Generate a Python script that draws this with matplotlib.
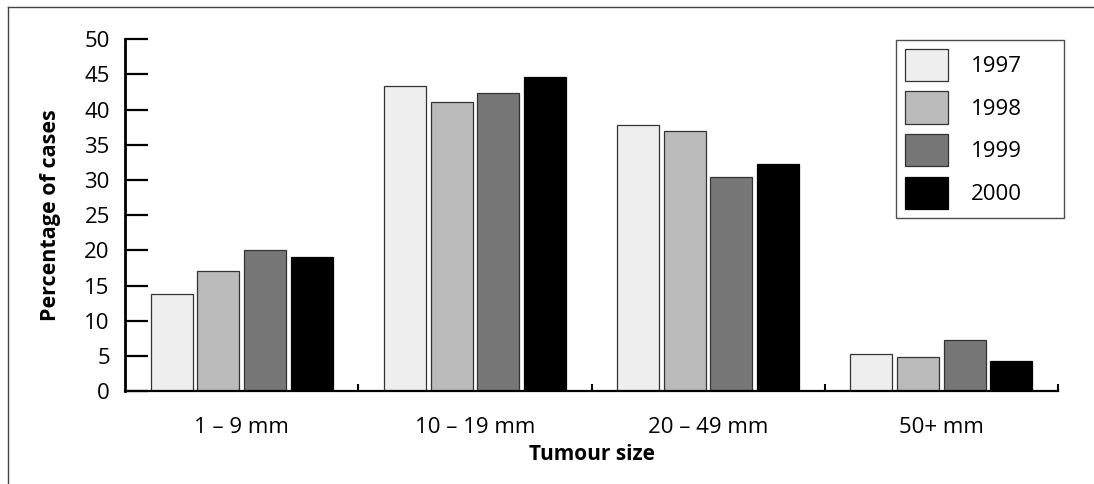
import matplotlib
matplotlib.use("Agg")
import matplotlib.pyplot as plt
from matplotlib.lines import Line2D
import numpy as np

plt.rcParams['font.family'] = ['Open Sans', 'DejaVu Sans']

sizes = ["1 \u2013 9 mm", "10 \u2013 19 mm", "20 \u2013 49 mm", "50+ mm"]
years = ["1997", "1998", "1999", "2000"]
pct_1997 = [13.8, 43.4, 37.8, 5.2]
pct_1998 = [17.1, 41.1, 37.0, 4.9]
pct_1999 = [20.1, 42.4, 30.4, 7.2]
pct_2000 = [19.1, 44.7, 32.3, 4.2]
colors = ["#eeeeee", "#bbbbbb", "#777777", "#000000"]

series = [pct_1997, pct_1998, pct_1999, pct_2000]

fig = plt.figure(figsize=(10.94, 4.84), dpi=100)
ax = fig.add_axes([0.1143, 0.1921, 0.8528, 0.7267])

x = np.arange(len(sizes))
for j, vals in enumerate(series):
    ax.bar(x + (j - 1.5) * 0.2, vals, width=0.18, color=colors[j],
           edgecolor="#333333" if j < 3 else "#000000", linewidth=0.9,
           label=years[j], zorder=2)

ax.set_xlim(-0.5, 3.5)
ax.set_ylim(0, 50)
ax.set_yticks(range(0, 51, 5))
ax.set_xticks(x)
ax.set_xticklabels(sizes)
ax.set_xticks([0.5, 1.5, 2.5, 3.5], minor=True)

for s in ["top", "right"]:
    ax.spines[s].set_visible(False)
ax.spines["left"].set_linewidth(2.0)
ax.spines["bottom"].set_linewidth(1.6)

ax.tick_params(axis="y", direction="in", length=16.5, width=1.6, pad=11,
               labelsize=16, colors="black")
ax.tick_params(axis="x", which="major", length=0, pad=19, labelsize=16)
ax.tick_params(axis="x", which="minor", direction="in", length=5, width=1.5)

ax.set_ylabel("Percentage of cases", fontsize=15.5, fontweight="bold", labelpad=17)
ax.set_xlabel("Tumour size", fontsize=15, fontweight="bold", labelpad=4)

leg = ax.legend(loc="upper left",
                bbox_to_anchor=(896 / 1094, 1 - 222 / 484, 168 / 1094, 182 / 484),
                bbox_transform=fig.transFigure, mode="expand", fontsize=16,
                frameon=True, fancybox=False, handlelength=1.94,
                handleheight=1.85, labelspacing=0.47, handletextpad=1.04,
                borderpad=0.4, borderaxespad=0)
leg.get_frame().set_edgecolor("#222222")
leg.get_frame().set_linewidth(1.0)

fig.add_artist(Line2D([8 / 1094, 1], [1 - 7 / 484, 1 - 7 / 484],
                      transform=fig.transFigure, color="#444444", lw=1))
fig.add_artist(Line2D([8 / 1094, 8 / 1094], [0, 1 - 7 / 484],
                      transform=fig.transFigure, color="#444444", lw=1))

fig.savefig("out.png", dpi=100)
